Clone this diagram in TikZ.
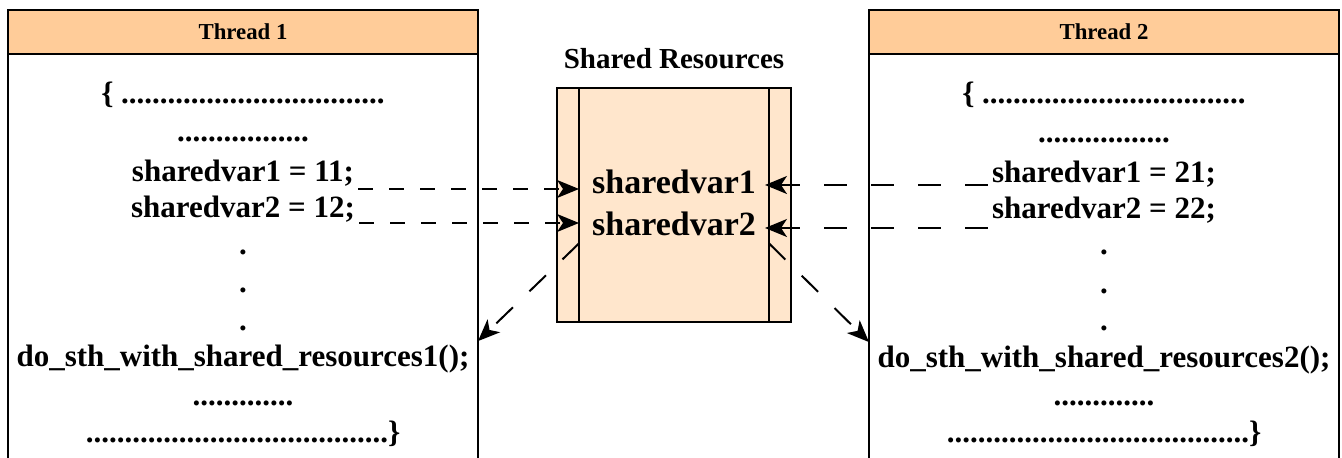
\documentclass[tikz,border=0pt]{standalone}
\usepackage{fontspec}
\setmainfont{Liberation Serif}
\usepackage{tikz}
\usetikzlibrary{positioning}
\usetikzlibrary{arrows.meta}
\definecolor{hdrorange}{HTML}{FFCC99}
\definecolor{resorange}{HTML}{FFE6CC}
\tikzset{
    every picture/.append style={
        >={Stealth[length=11pt,width=9pt,inset=3pt]}
    }
}
\tikzset{
    header/.style={shape=rectangle,draw=black,fill=hdrorange,line width=1pt,minimum width=235pt,minimum height=22pt,inner sep=0pt,outer sep=0pt,font=\fontsize{11.4}{13}\selectfont\bfseries},
    panel/.style={shape=rectangle,draw=black,line width=1pt,minimum width=235pt,minimum height=260pt,outer sep=0pt},
    codeline/.style={anchor=base,inner sep=2pt,font=\fontsize{15.5}{18}\selectfont\bfseries},
    resbox/.style={shape=rectangle,draw=black,fill=resorange,line width=1pt,minimum width=117pt,minimum height=117pt,outer sep=0pt},
    resvar/.style={anchor=base,font=\fontsize{17}{20}\selectfont\bfseries},
    restitle/.style={anchor=base,font=\fontsize{14.5}{17}\selectfont\bfseries},
    flowleft/.style={line width=1pt,dash pattern=on 7.5pt off 8pt},
    flowright/.style={line width=1pt,dash pattern=on 11.5pt off 12pt},
    flowdiag/.style={line width=1pt,dash pattern=on 11.5pt off 11.5pt},
}

\begin{document}
\begin{tikzpicture}[x=0.5pt,y=-0.5pt]
		\useasboundingbox (0,0) rectangle (1342,458);
		\clip (0,0) rectangle (1342,458);
		\node[header] (h1) at (243,32) {Thread 1};
		\node[panel, below=0pt of h1] (p1) {};
		\node[header] (h2) at (1104,32) {Thread 2};
		\node[panel, below=0pt of h2] (p2) {};
		
		\node[restitle] (title) at (674,69) {Shared Resources};
		\node[resbox] (res) at (674,205) {};
		\draw[line width=1pt] ([xshift=11pt]res.north west) -- ([xshift=11pt]res.south west);
		\draw[line width=1pt] ([xshift=-11pt]res.north east) -- ([xshift=-11pt]res.south east);
		\coordinate (resL) at ([xshift=11pt]res.west);
		\coordinate (resR) at ([xshift=-11pt]res.east);
		\node[resvar] (sv1) at (674,194) {sharedvar1};
		\node[resvar] (sv2) at (674,236) {sharedvar2};
		
		\node[codeline] (l1) at (243,104) {\{ ..................................};
		\node[codeline] (l2) at (243,142) {.................};
		\node[codeline] (l3) at (243,182) {sharedvar1 = 11;};
		\node[codeline] (l4) at (243,218) {sharedvar2 = 12;};
		\node[codeline] (l5) at (243,255) {.};
		\node[codeline] (l6) at (243,293) {.};
		\node[codeline] (l7) at (243,331) {.};
		\node[codeline] (l8) at (243,367) {do\_sth\_with\_shared\_resources1();};
		\node[codeline] (l9) at (243,406) {.............};
		\node[codeline] (l10) at (243,443) {.......................................\}};
		
		\node[codeline] (r1) at (1104,104) {\{ ..................................};
		\node[codeline] (r2) at (1104,143) {.................};
		\node[codeline] (r3) at (1104,183) {sharedvar1 = 21;};
		\node[codeline] (r4) at (1104,219) {sharedvar2 = 22;};
		\node[codeline] (r5) at (1104,255) {.};
		\node[codeline] (r6) at (1104,294) {.};
		\node[codeline] (r7) at (1104,331) {.};
		\node[codeline] (r8) at (1104,368) {do\_sth\_with\_shared\_resources2();};
		\node[codeline] (r9) at (1104,406) {.............};
		\node[codeline] (r10) at (1104,443) {.......................................\}};
		
		\coordinate (a1) at ([yshift=-3.5pt]l3.base east);
		\coordinate (a2) at ([yshift=-2.5pt]l4.base east);
		\coordinate (b1) at ([yshift=-1pt]r3.base west);
		\coordinate (b2) at ([yshift=-4.5pt]r4.base west);
		\path [flowleft,->] (a1) edge (a1 -| resL);
		\path [flowleft,->] (a2) edge (a2 -| resL);
		\path [flowright,->] (b1) edge ([xshift=-2pt]b1 -| resR);
		\path [flowright,->] (b2) edge ([xshift=-2pt]b2 -| resR);
		\path [flowdiag,->] (resL |- sv2.south) edge (p1.east |- l8.north);
		\path [flowdiag,->] (resR |- sv2.south) edge (p2.west |- r8.north);
		\end{tikzpicture}
\end{document}
